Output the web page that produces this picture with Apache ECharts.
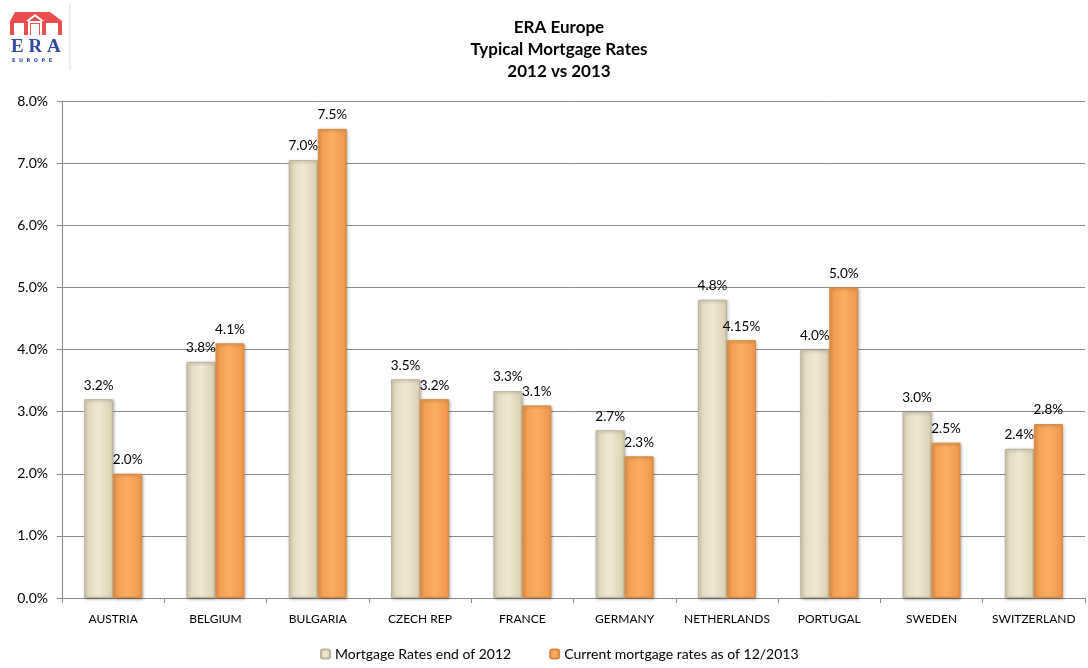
<!DOCTYPE html>
<html><head><meta charset="utf-8">
<script src="https://cdn.jsdelivr.net/npm/echarts@6/dist/echarts.min.js"></script>
<style>html,body{margin:0;padding:0;background:#fff}#c{width:1088px;height:668px}</style>
</head><body><div id="c"></div>
<script>
const categories = ['AUSTRIA','BELGIUM','BULGARIA','CZECH REP','FRANCE','GERMANY','NETHERLANDS','PORTUGAL','SWEDEN','SWITZERLAND'];
const rates2012 = [3.2,3.8,7.05,3.52,3.33,2.7,4.8,4.0,3.0,2.4];
const rates2013 = [2.0,4.1,7.55,3.2,3.1,2.28,4.15,5.0,2.5,2.8];
const labels2012 = ['3.2%','3.8%','7.0%','3.5%','3.3%','2.7%','4.8%','4.0%','3.0%','2.4%'];
const labels2013 = ['2.0%','4.1%','7.5%','3.2%','3.1%','2.3%','4.15%','5.0%','2.5%','2.8%'];
const yTicks = ['0.0%','1.0%','2.0%','3.0%','4.0%','5.0%','6.0%','7.0%','8.0%'];
const titleLines = ['ERA Europe','Typical Mortgage Rates','2012 vs 2013'];
const seriesNames = ['Mortgage Rates end of 2012','Current mortgage rates as of 12/2013'];

const F = 'Lato, "Open Sans", sans-serif';
const chart = echarts.init(document.getElementById('c'));
function grad(c0,c1,c2){return new echarts.graphic.LinearGradient(0,0,1,0,[{offset:0,color:c0},{offset:0.5,color:c1},{offset:1,color:c2}]);}
chart.setOption({
  backgroundColor:'#fff',
  animation:false,
  title:{text:titleLines.join('\n'),left:554,top:12,textAlign:'center',
    textStyle:{fontFamily:F,fontSize:17,fontWeight:'bold',color:'#000',lineHeight:22}},
  legend:{bottom:2,left:315,itemWidth:9,itemHeight:9,itemGap:38,
    textStyle:{fontFamily:F,fontSize:14,color:'#000'},data:seriesNames},
  grid:{left:62,right:3,top:101,bottom:70,containLabel:false},
  xAxis:{type:'category',data:categories,
    axisLine:{lineStyle:{color:'#888'}},
    axisTick:{show:true,length:5,lineStyle:{color:'#888'}},
    axisLabel:{fontFamily:F,fontSize:12,color:'#000',margin:15,interval:0}},
  yAxis:{type:'value',min:0,max:8,interval:1,
    axisLine:{show:true,lineStyle:{color:'#888'}},
    axisTick:{show:true,length:5,lineStyle:{color:'#888'}},
    splitLine:{lineStyle:{color:'#8a8a8a',width:1}},
    axisLabel:{fontFamily:F,fontSize:14,color:'#000',margin:14,formatter:(v)=>yTicks[Math.round(v)]}},
  series:[
    {name:seriesNames[0],type:'bar',data:rates2012,barWidth:29,barGap:'0%',
      itemStyle:{color:grad('#ddd4b8','#f0e8d2','#d9cfb2'),borderColor:'#bdb39a',borderWidth:1,
        shadowColor:'rgba(0,0,0,0.3)',shadowBlur:3,shadowOffsetX:1,shadowOffsetY:1},
      label:{show:true,position:'top',distance:7,fontFamily:F,fontSize:13.5,color:'#000',
        formatter:(p)=>labels2012[p.dataIndex]}},
    {name:seriesNames[1],type:'bar',data:rates2013,barWidth:29,
      itemStyle:{color:grad('#f09a4c','#fbad60','#ef974a'),borderColor:'#d98a40',borderWidth:1,
        shadowColor:'rgba(0,0,0,0.3)',shadowBlur:3,shadowOffsetX:1,shadowOffsetY:1},
      label:{show:true,position:'top',distance:7,fontFamily:F,fontSize:13.5,color:'#000',
        formatter:(p)=>labels2013[p.dataIndex]}}
  ],
  graphic:[
    {type:'polygon',shape:{points:[[15,12],[50,12],[62,21],[62,35],[10,35],[10,21]]},style:{fill:'#e8504f'}},
    {type:'rect',shape:{x:14,y:23,width:10,height:12},style:{fill:'#fff'}},
    {type:'rect',shape:{x:28,y:21,width:14,height:14},style:{fill:'#fff'}},
    {type:'rect',shape:{x:46,y:23,width:12,height:12},style:{fill:'#fff'}},
    {type:'polygon',shape:{points:[[26,21],[35,14],[44,21]]},style:{fill:'#fff'}},
    {type:'polygon',shape:{points:[[29,21],[35,16.5],[41,21]]},style:{fill:'#e8504f'}},
    {type:'rect',shape:{x:30,y:23,width:10,height:12},style:{fill:'#e8504f'}},
    {type:'rect',shape:{x:31,y:24,width:8,height:11},style:{fill:'#fff'}},
    {type:'text',left:11,top:38,style:{text:'E R A',font:'bold 19px "Liberation Serif", serif',fill:'#2f4aa0'}},
    {type:'text',left:12,top:58,style:{text:'E  U  R  O  P  E',font:'bold 5px "DejaVu Sans", sans-serif',fill:'#2f4aa0'}},
    {type:'line',shape:{x1:70,y1:4,x2:70,y2:70},style:{stroke:'#ddd',lineWidth:1}}
  ]
});
</script></body></html>
